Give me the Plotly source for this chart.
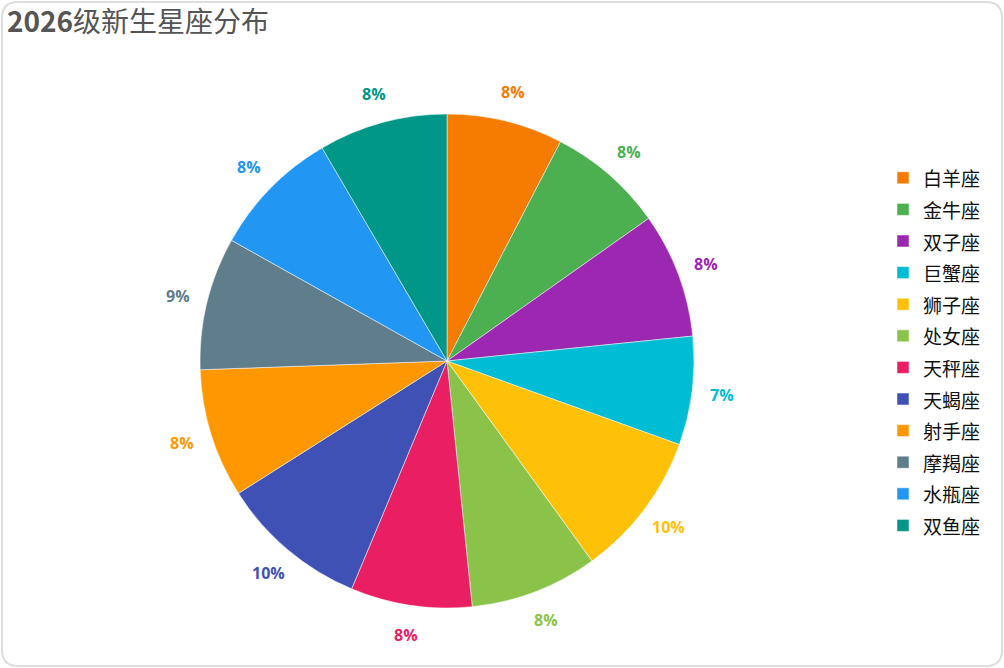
import math
import plotly.graph_objects as go

W, H = 1004, 668

signs = ["白羊座", "金牛座", "双子座", "巨蟹座", "狮子座", "处女座",
         "天秤座", "天蝎座", "射手座", "摩羯座", "水瓶座", "双鱼座"]
counts = [91, 91, 98, 85, 114, 100, 95, 116, 101, 104, 101, 101]
colors = ["#F57C00", "#4CAF50", "#9C27B0", "#00BCD4", "#FFC107", "#8BC34A",
          "#E91E63", "#3F51B5", "#FF9800", "#607D8B", "#2196F3", "#009688"]

cx, cy, R = 447, 361, 247
LABEL_R = R + 30

legend_labels = [f"<span style='font-size:19px'>{s}</span>" for s in signs]

fig = go.Figure(go.Pie(
    labels=legend_labels,
    values=counts,
    customdata=signs,
    sort=False,
    direction="clockwise",
    rotation=0,
    marker=dict(colors=colors, line=dict(color="white", width=0.5)),
    textinfo="none",
    hovertemplate="%{customdata}: %{value} (%{percent})<extra></extra>",
    domain=dict(x=[(cx - R) / W, (cx + R) / W],
                y=[1 - (cy + R) / H, 1 - (cy - R) / H]),
))

# percentage labels placed outside the slices, derived from the data
total = sum(counts)
annotations = []
cum = 0
for s, v, c in zip(signs, counts, colors):
    mid = (cum + v / 2) / total * 2 * math.pi
    cum += v
    px_ = cx + LABEL_R * math.sin(mid)
    py_ = cy - LABEL_R * math.cos(mid)
    annotations.append(dict(
        x=px_ / W, y=1 - py_ / H, xref="paper", yref="paper",
        text=f"<b>{round(v / total * 100)}%</b>", showarrow=False,
        xanchor="center", yanchor="middle",
        font=dict(size=16, color=c, family="Open Sans")))


def rounded_rect(x0, y0, x1, y1, r):
    px = lambda v: v / W
    py = lambda v: 1 - v / H
    return (f"M {px(x0 + r)},{py(y0)} L {px(x1 - r)},{py(y0)} "
            f"Q {px(x1)},{py(y0)} {px(x1)},{py(y0 + r)} "
            f"L {px(x1)},{py(y1 - r)} Q {px(x1)},{py(y1)} {px(x1 - r)},{py(y1)} "
            f"L {px(x0 + r)},{py(y1)} Q {px(x0)},{py(y1)} {px(x0)},{py(y1 - r)} "
            f"L {px(x0)},{py(y0 + r)} Q {px(x0)},{py(y0)} {px(x0 + r)},{py(y0)} Z")


fig.update_layout(
    width=W, height=H,
    margin=dict(l=0, r=0, t=0, b=0),
    paper_bgcolor="white",
    title=dict(text="<b>2026</b>级新生星座分布", x=7 / W, xanchor="left",
               y=1 - 22 / H, yanchor="middle",
               font=dict(size=28, color="#555555",
                         family="Noto Sans CJK SC")),
    legend=dict(x=883 / W, xanchor="left", y=1 - 157 / H, yanchor="top",
                font=dict(size=22, color="#111111", family="Noto Sans CJK SC"),
                itemwidth=30),
    annotations=annotations,
    shapes=[dict(type="path", xref="paper", yref="paper",
                 path=rounded_rect(2, 2, 1002, 666, 16),
                 line=dict(color="#DDDDDD", width=2))],
    showlegend=True,
)

fig.write_html("out.html",
               config={"displayModeBar": False},
               post_script="document.body.style.margin='0';document.body.style.overflow='hidden';")
